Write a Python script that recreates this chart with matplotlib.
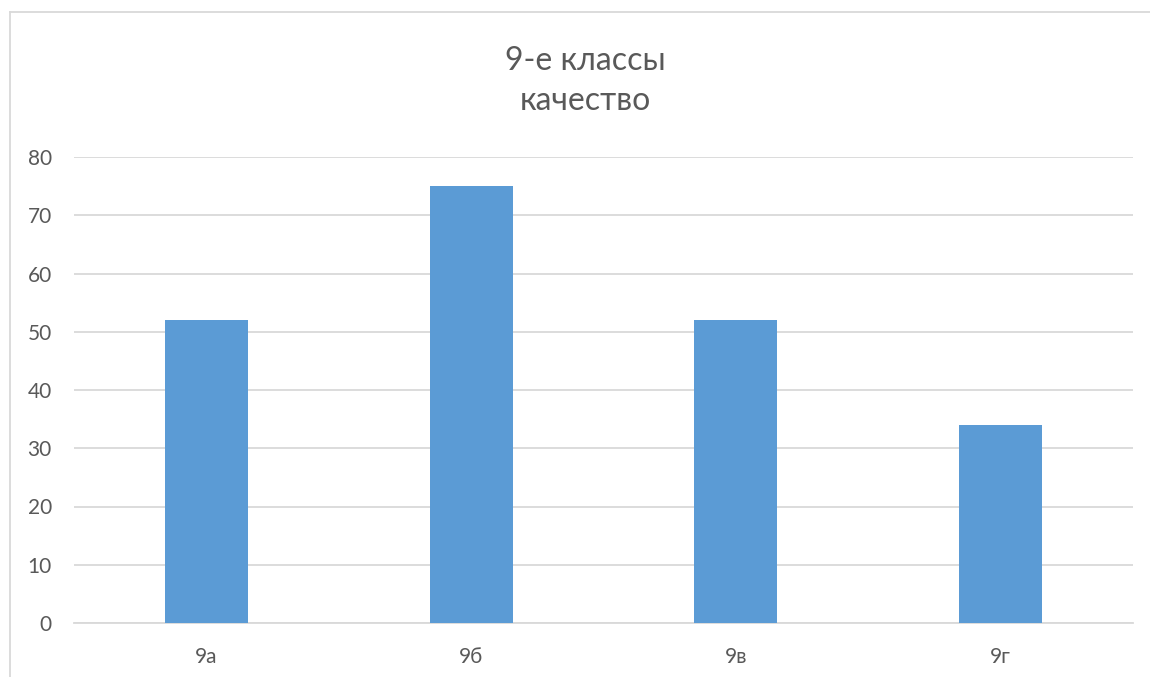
import matplotlib
matplotlib.use("Agg")
import matplotlib.pyplot as plt
from matplotlib.lines import Line2D

# chart data
classes = ["9а", "9б", "9в", "9г"]
quality = [52, 75, 52, 34]
y_ticks = [0, 10, 20, 30, 40, 50, 60, 70, 80]
title_text = "9-е классы\nкачество"

plt.rcParams['font.family'] = ['Lato', 'DejaVu Sans']

fig = plt.figure(figsize=(11.5, 6.77), dpi=100)
ax = fig.add_axes([74 / 1150, 1 - 623 / 677, (1133 - 74) / 1150, (623 - 157) / 677])

ax.bar(range(len(classes)), quality, width=0.313, color="#5B9BD5", zorder=3)

ax.set_xlim(-0.5, len(classes) - 0.5)
ax.set_ylim(0, 80)
ax.set_yticks(y_ticks)
ax.set_xticks(range(len(classes)))
ax.set_xticklabels(classes)
ax.grid(axis="y", color="#d9d9d9", linewidth=1.3, zorder=0)
for s in ["top", "right", "left"]:
    ax.spines[s].set_visible(False)
ax.spines["bottom"].set_color("#d9d9d9")
ax.spines["bottom"].set_linewidth(1.3)
ax.tick_params(axis="both", length=0, labelsize=15, colors="#595959")
ax.tick_params(axis="y", pad=16)
ax.tick_params(axis="x", pad=17)

fig.text(585 / 1150, 1 - 81 / 677, title_text, ha="center", va="center",
         fontsize=23, color="#595959", linespacing=1.45)

# outer chart frame
fig.add_artist(Line2D([10 / 1150, 10 / 1150], [0, 1 - 12 / 677], color="#d9d9d9", lw=1.3))
fig.add_artist(Line2D([10 / 1150, 1], [1 - 12 / 677, 1 - 12 / 677], color="#d9d9d9", lw=1.3))

fig.savefig("out.png", dpi=100, facecolor="white")
